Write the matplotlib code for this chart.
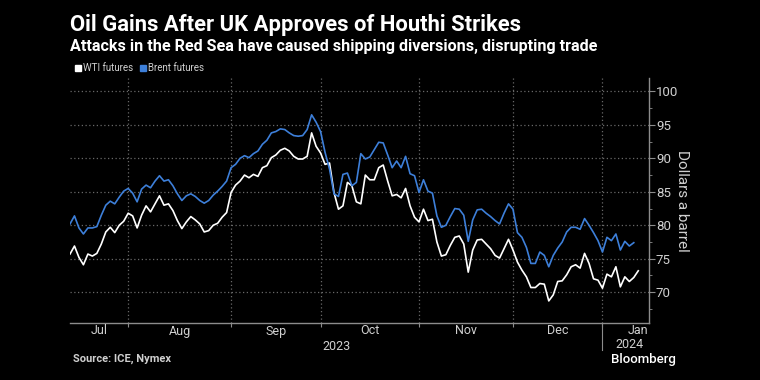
import numpy as np
import pandas as pd
import matplotlib
matplotlib.use("Agg")
import matplotlib.pyplot as plt
import matplotlib.transforms as mtransforms

# --- Данные (торговые дни, 13 июл 2023 – 12 янв 2024) ---
holidays = ["2023-09-04", "2023-11-23", "2023-12-25", "2024-01-01"]
dates = pd.bdate_range("2023-07-13", "2024-01-12")
dates = dates[~dates.isin(pd.to_datetime(holidays))]

wti = [75.7, 76.9, 75.2, 74.1, 75.7, 75.4, 75.8, 77.2, 79.0, 79.7,
       78.9, 80.0, 80.6, 81.8, 81.4, 79.6, 81.5, 82.9, 82.0, 83.2,
       84.4, 83.0, 83.2, 82.2, 80.7, 79.5, 80.5, 81.3, 80.8, 80.2,
       79.0, 79.2, 80.0, 80.3, 81.2, 81.9, 84.9, 86.0, 86.6, 87.5,
       87.1, 87.6, 87.3, 88.6, 88.9, 90.1, 90.5, 91.2, 91.5, 91.1,
       90.3, 89.9, 89.9, 90.3, 93.8, 91.8, 90.8, 89.1, 89.3, 84.9,
       82.4, 82.9, 86.4, 85.9, 83.5, 83.2, 87.5, 86.8, 86.8, 88.6,
       89.0, 86.6, 84.4, 84.6, 84.1, 85.5, 82.9, 81.2, 80.5, 82.4,
       80.7, 80.9, 77.5, 75.4, 75.6, 77.0, 78.2, 78.4, 77.2, 73.0,
       76.3, 77.8, 77.9, 77.2, 76.5, 75.5, 75.1, 76.5, 77.9, 76.3,
       74.5, 73.3, 72.3, 70.7, 70.7, 71.3, 71.2, 68.7, 69.6, 71.6,
       71.7, 72.6, 73.8, 74.1, 73.6, 75.8, 74.3, 72.0, 71.8, 70.6,
       72.7, 72.3, 73.8, 70.8, 72.3, 71.6, 72.2, 73.2]

brent = [80.2, 81.4, 79.6, 78.7, 79.6, 79.6, 79.8, 81.5, 83.0, 83.6,
         83.2, 84.2, 85.1, 85.5, 84.8, 83.5, 85.4, 86.0, 85.6, 86.6,
         87.4, 86.6, 86.8, 85.9, 84.7, 83.7, 84.4, 84.7, 84.3, 83.7,
         83.3, 83.7, 84.5, 85.1, 85.8, 86.6, 88.6, 89.1, 90.0, 90.4,
         90.1, 90.7, 91.1, 92.1, 92.7, 93.8, 94.0, 94.4, 94.3, 93.8,
         93.4, 93.3, 93.4, 94.3, 96.5, 95.4, 94.0, 90.9, 88.4, 84.7,
         84.3, 87.6, 87.8, 85.9, 86.4, 90.7, 89.9, 90.2, 91.3, 92.4,
         92.3, 90.5, 88.6, 89.6, 88.6, 90.3, 87.7, 87.4, 84.9, 86.8,
         85.1, 84.8, 81.4, 79.7, 80.0, 81.3, 82.5, 82.4, 81.5, 77.6,
         80.8, 82.3, 82.4, 81.8, 81.3, 80.7, 80.2, 81.8, 83.2, 82.4,
         78.9, 78.2, 76.7, 74.3, 74.3, 76.0, 75.5, 73.8, 75.5, 76.6,
         77.5, 79.0, 79.7, 79.7, 79.4, 81.0, 80.0, 78.9, 77.7, 76.0,
         78.2, 77.7, 78.7, 76.3, 77.6, 76.9, 77.4]

months = ["Jul", "Aug", "Sep", "Oct", "Nov", "Dec", "Jan"]
y_ticks = [70, 75, 80, 85, 90, 95, 100]

# --- Стиль ---
bg = "#000000"
blue = "#3d7fd9"
grid_c = "#686868"
axis_c = "#8c8c8c"
tick_c = "#d0d0d0"
plt.rcParams["font.family"] = ["Roboto", "DejaVu Sans"]

fig = plt.figure(figsize=(7.6, 3.8), dpi=100, facecolor=bg)
ax = fig.add_axes([70 / 760, 1 - 323 / 380, (649 - 70) / 760, (323 - 78) / 380])
ax.set_facecolor(bg)

x = np.arange(len(dates))
ax.plot(x[:len(wti)], wti, color="white", lw=1.2)
ax.plot(x[:len(brent)], brent, color=blue, lw=1.2)

ax.set_xlim(0, 129.4)
ax.set_ylim(65.4, 102)

# Границы месяцев (первый торговый день)
first_idx = [i for i in range(1, len(dates)) if dates[i].month != dates[i - 1].month]
for i in first_idx:
    ax.axvline(i, color=grid_c, lw=0.9, ls=(0, (1, 2)), zorder=0)
for v in y_ticks:
    ax.axhline(v, color=grid_c, lw=0.9, ls=(0, (1, 2)), zorder=0)

ax.set_xticks(first_idx)
ax.set_xticklabels([])
ax.tick_params(axis="x", length=3, color=axis_c, width=0.8)

# Подписи месяцев по центру месяца
tr = mtransforms.blended_transform_factory(ax.transData, fig.transFigure)
edges = [0] + first_idx + [129.4]
for k, name in enumerate(months):
    if name == "Jan":
        ax.text(129.2, 1 - 331 / 380, name, transform=tr, ha="right", va="center",
                color=tick_c, fontsize=9)
    else:
        ax.text((edges[k] + edges[k + 1]) / 2, 1 - 331 / 380, name, transform=tr,
                ha="center", va="center", color=tick_c, fontsize=9)

jan_i = first_idx[-1]
ax.text(jan_i / 2, 1 - 346 / 380, "2023", transform=tr, ha="center", va="center",
        color=tick_c, fontsize=9)
ax.text(jan_i + 3, 1 - 345 / 380, "2024", transform=tr, ha="left", va="center",
        color=tick_c, fontsize=9)
ax.plot([jan_i, jan_i], [1 - 323 / 380, 1 - 350 / 380], transform=tr,
        color=axis_c, lw=0.8, clip_on=False)

# Правая ось
ax.yaxis.tick_right()
ax.yaxis.set_label_position("right")
ax.set_yticks(y_ticks)
ax.set_yticklabels([str(v) for v in y_ticks])
ax.set_yticks(np.arange(67.5, 101, 5), minor=True)
ax.tick_params(axis="y", which="major", length=4, color=axis_c, labelcolor=tick_c,
               labelsize=9.5, pad=1)
ax.tick_params(axis="y", which="minor", length=2, color=axis_c)
ax.set_ylabel("Dollars a barrel", rotation=-90, labelpad=8, color=tick_c,
              fontsize=11)

for s in ["top", "left"]:
    ax.spines[s].set_visible(False)
for s in ["bottom", "right"]:
    ax.spines[s].set_color(axis_c)
    ax.spines[s].set_linewidth(1)

# Заголовки
fig.text(70 / 760, 1 - 25 / 380, "Oil Gains After UK Approves of Houthi Strikes",
         color="white", fontsize=15.8, fontweight="bold", va="center", ha="left")
fig.text(70 / 760, 1 - 47 / 380,
         "Attacks in the Red Sea have caused shipping diversions, disrupting trade",
         color="white", fontsize=11.6, fontweight="bold", va="center", ha="left")

# Легенда
fig.patches.append(plt.Rectangle((75 / 760, 1 - 71 / 380), 6 / 760, 6 / 380,
                                 transform=fig.transFigure, color="white"))
fig.text(83 / 760, 1 - 68 / 380, "WTI futures", color=tick_c, fontsize=7,
         va="center", ha="left")
fig.patches.append(plt.Rectangle((140 / 760, 1 - 71 / 380), 6 / 760, 6 / 380,
                                 transform=fig.transFigure, color=blue))
fig.text(148 / 760, 1 - 68 / 380, "Brent futures", color=tick_c, fontsize=7,
         va="center", ha="left")

# Подвал
fig.text(73 / 760, 1 - 359 / 380, "Source: ICE, Nymex", color=tick_c,
         fontsize=8, fontweight="bold", va="center", ha="left")
fig.text(611 / 760, 1 - 359 / 380, "Bloomberg", color="white",
         fontsize=9.5, fontweight="medium", va="center", ha="left")

fig.savefig("out.png", dpi=100, facecolor=bg)
